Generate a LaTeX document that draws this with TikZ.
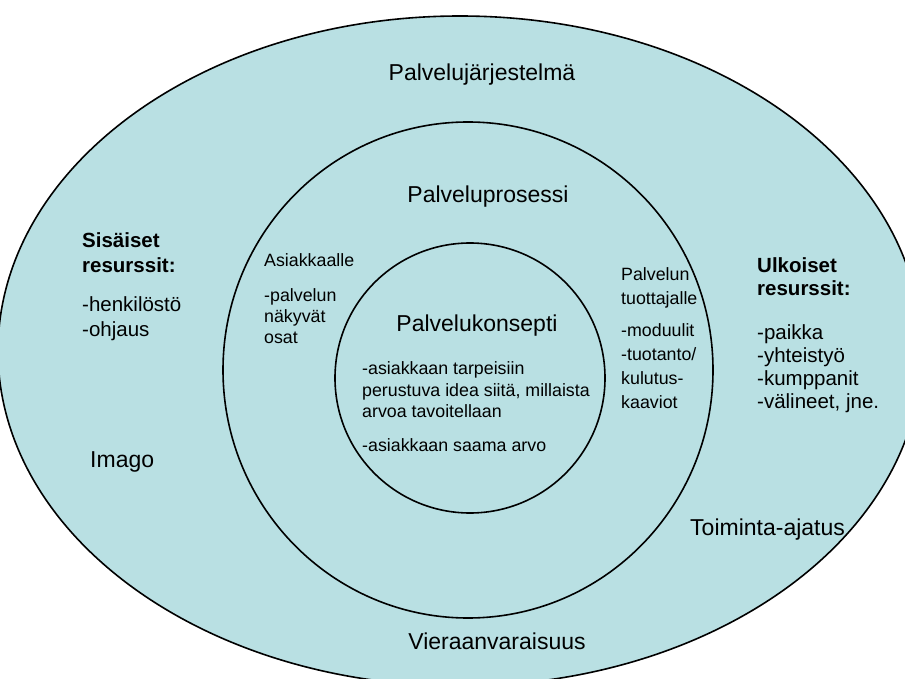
\documentclass[tikz,border=0pt]{standalone}
\usepackage{fontspec}
\setmainfont{Liberation Sans}
\definecolor{ringfill}{RGB}{185,224,227}
\begin{document}
\begin{tikzpicture}[x=1pt,y=-1pt,
  ring/.style={draw=black,line width=1.6pt},
  head/.style={font=\fontsize{23}{27}\selectfont,inner sep=0pt,anchor=base},
  headw/.style={font=\fontsize{23}{27}\selectfont,inner sep=0pt,anchor=base west},
  small/.style={inner sep=0pt,anchor=north west,align=left},
  side/.style={inner sep=0pt,anchor=north west,align=left}]
\useasboundingbox (0,0) rectangle (905,679);
\clip (0,0) rectangle (905,679);
% rings
\fill[ringfill] (460,351) ellipse [x radius=462, y radius=335];
\draw[ring] (460,351) ellipse [x radius=462, y radius=335];
\draw[ring] (468,370) ellipse [x radius=245, y radius=248];
\draw[ring] (470,378) circle [radius=135];
% headings
\node[head] (jarj) at (482,81) {Palvelujärjestelmä};
\node[head] (pros) at (488,203) {Palveluprosessi};
\node[head] (kons) at (477,331) {Palvelukonsepti};
\node[head] (vier) at (497,649) {Vieraanvaraisuus};
\node[headw] (imago) at (90,467) {Imago};
\node[headw] (toim) at (690,535) {Toiminta-ajatus};
% side resources
\node[side,font=\fontsize{20.5}{25.5}\selectfont] (sis) at (82,232.2)
  {\textbf{Sisäiset}\\\textbf{resurssit:}\\[13pt]-henkilöstö\\-ohjaus};
\node[side,font=\fontsize{20.5}{23}\selectfont] (ulk) at (757,257.6)
  {\textbf{Ulkoiset}\\\textbf{resurssit:}\\[21pt]-paikka\\-yhteistyö\\-kumppanit\\-välineet, jne.};
% middle ring texts
\node[small,font=\fontsize{17.8}{21}\selectfont] (asi) at (264,253.7)
  {Asiakkaalle\\[14pt]-palvelun\\näkyvät\\osat};
\node[small,font=\fontsize{17.8}{24}\selectfont] (tuot) at (621,267.7)
  {Palvelun\\tuottajalle\\[8pt]-moduulit\\-tuotanto/\\kulutus-\\kaaviot};
% inner texts
\node[small,font=\fontsize{17.8}{21.5}\selectfont] (inner) at (362,361.7)
  {-asiakkaan tarpeisiin\\perustuva idea siitä, millaista\\arvoa tavoitellaan\\[12.5pt]-asiakkaan saama arvo};
\end{tikzpicture}
\end{document}
